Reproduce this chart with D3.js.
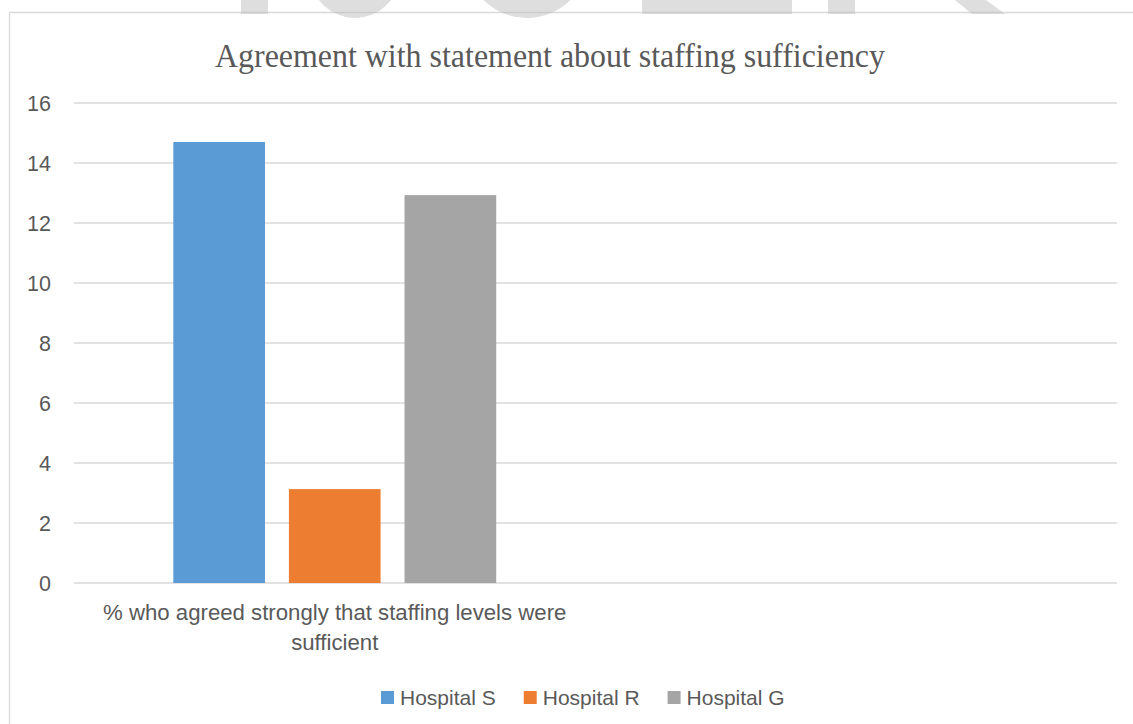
<!DOCTYPE html>
<html><head><meta charset="utf-8">
<script src="https://cdn.jsdelivr.net/npm/d3@7"></script>
<style>html,body{margin:0;padding:0;background:#fff;overflow:hidden}</style>
</head><body>
<svg id="chart" width="1133" height="724"></svg>
<script>
const title = "Agreement with statement about staffing sufficiency";
const categories = ["% who agreed strongly that staffing levels were sufficient", ""];
const categoryLines = [["% who agreed strongly that staffing levels were", "sufficient"], []];
const seriesNames = ["Hospital S", "Hospital R", "Hospital G"];
const seriesColors = ["#5b9bd5", "#ed7d31", "#a5a5a5"];
const valuesS = [14.7, null];
const valuesR = [3.13, null];
const valuesG = [12.93, null];
const yTicks = [0, 2, 4, 6, 8, 10, 12, 14, 16];

const seriesValues = [valuesS, valuesR, valuesG];
const svg = d3.select("#chart");
const textColor = "#595959", gridColor = "#d9d9d9";
const sans = "'Liberation Sans', Arial, sans-serif";

// chart frame
svg.append("line").attr("x1", 9.5).attr("x2", 1133).attr("y1", 12.5).attr("y2", 12.5)
  .attr("stroke", gridColor).attr("stroke-width", 1.3);
svg.append("line").attr("x1", 9.5).attr("x2", 9.5).attr("y1", 12.5).attr("y2", 724)
  .attr("stroke", gridColor).attr("stroke-width", 1.3);

const x = d3.scaleBand().domain(d3.range(categories.length)).range([74, 1117]).padding(0);
const y = d3.scaleLinear().domain([0, 16]).range([583, 103]);
const xs = d3.scaleBand().domain(seriesNames).range([0, x.bandwidth()])
  .paddingInner(0.207).paddingOuter(0.859);

// gridlines
svg.append("g").selectAll("line").data(yTicks).join("line")
  .attr("x1", 74).attr("x2", 1117)
  .attr("y1", d => y(d)).attr("y2", d => y(d))
  .attr("stroke", gridColor).attr("stroke-width", 1.4);

// y axis labels
const yAxis = d3.axisLeft(y).tickValues(yTicks).tickSize(0).tickPadding(0);
const gy = svg.append("g").attr("transform", "translate(51,0)").call(yAxis);
gy.select(".domain").remove();
gy.selectAll("text").attr("font-family", sans).attr("font-size", 21.5)
  .attr("fill", textColor).attr("dy", "0.36em");

// bars
const barData = [];
seriesNames.forEach((s, si) => seriesValues[si].forEach((v, ci) => {
  if (v != null) barData.push({s, si, ci, v});
}));
svg.append("g").selectAll("rect").data(barData).join("rect")
  .attr("x", d => x(d.ci) + xs(d.s))
  .attr("width", xs.bandwidth())
  .attr("y", d => y(d.v))
  .attr("height", d => y(0) - y(d.v))
  .attr("fill", d => seriesColors[d.si]);

// category labels
categoryLines.forEach((lines, ci) => {
  const cx = x(ci) + x.bandwidth() / 2;
  lines.forEach((ln, li) => {
    svg.append("text").attr("x", cx).attr("y", 620 + li * 30)
      .attr("text-anchor", "middle").attr("font-family", sans)
      .attr("font-size", 22.2).attr("fill", textColor).text(ln);
  });
});

// title
svg.append("text").attr("x", 550).attr("y", 67).attr("text-anchor", "middle")
  .attr("font-family", "'Liberation Serif', 'Times New Roman', serif")
  .attr("font-size", 34).attr("fill", textColor)
  .attr("textLength", 670).attr("lengthAdjust", "spacingAndGlyphs")
  .text(title);

// legend
const lg = svg.append("g");
let lx = 381;
seriesNames.forEach((s, i) => {
  lg.append("rect").attr("x", lx).attr("y", 691).attr("width", 13).attr("height", 13)
    .attr("fill", seriesColors[i]);
  const t = lg.append("text").attr("x", lx + 19).attr("y", 704.5)
    .attr("font-family", sans).attr("font-size", 21).attr("fill", textColor).text(s);
  lx += 19 + t.node().getComputedTextLength() + 28;
});

// faint watermark shapes at top
const wm = svg.append("g").attr("fill", "#bdbdbd").attr("fill-opacity", 0.5);
wm.append("rect").attr("x", 241).attr("y", -5).attr("width", 27).attr("height", 19);
wm.append("ellipse").attr("cx", 355).attr("cy", -30).attr("rx", 46).attr("ry", 48);
wm.append("ellipse").attr("cx", 527).attr("cy", -45).attr("rx", 62).attr("ry", 63);
wm.append("rect").attr("x", 642).attr("y", -5).attr("width", 150).attr("height", 19);
wm.append("rect").attr("x", 828).attr("y", -5).attr("width", 27).attr("height", 19);
wm.append("path").attr("d", "M955,0 L986,0 L1005,14 L972,14 Z");
</script>
</body></html>
